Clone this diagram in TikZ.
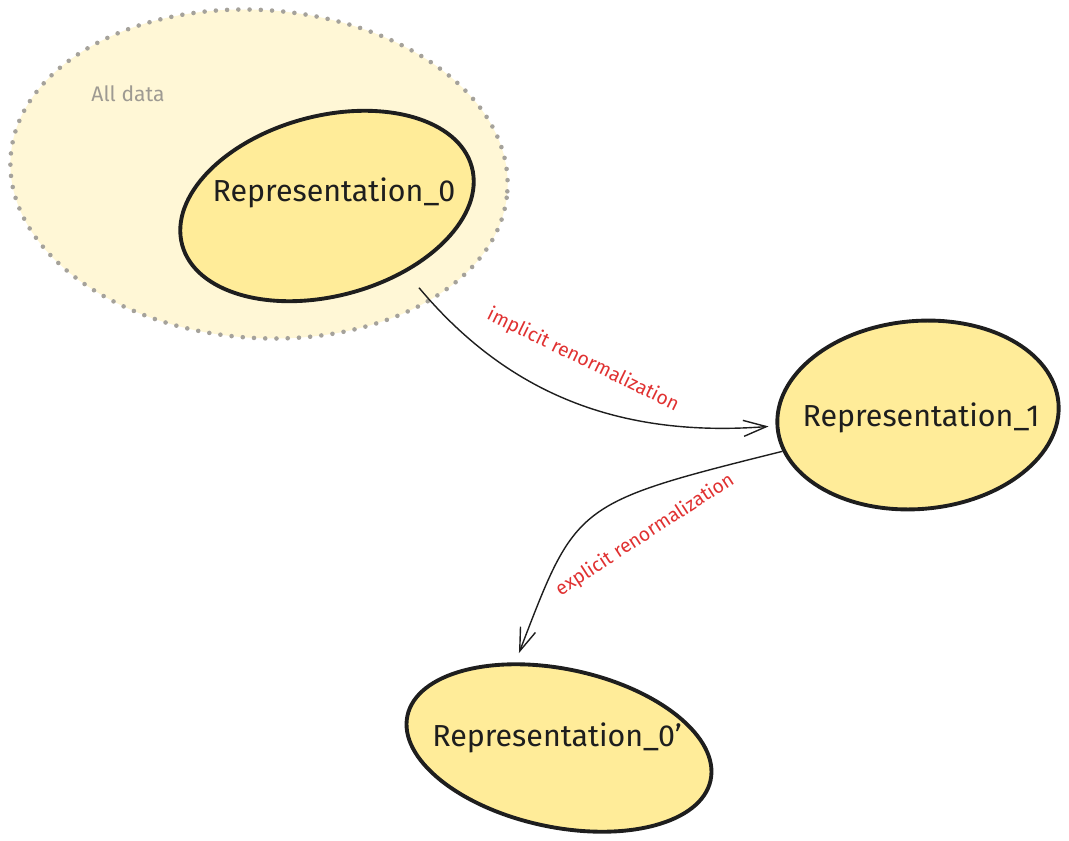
\documentclass[tikz,border=0pt]{standalone}
\usepackage{fontspec}
\setmainfont{Fira Sans}
\usetikzlibrary{arrows.meta,shapes.geometric}
\definecolor{RepFill}{RGB}{255,236,153}
\definecolor{DataFill}{RGB}{255,247,214}
\definecolor{DotGray}{RGB}{165,162,155}
\definecolor{LabelGray}{RGB}{158,154,146}
\definecolor{InkBlack}{RGB}{30,30,30}
\definecolor{NoteRed}{RGB}{224,49,49}
\tikzset{
  flow/.style={-{Straight Barb[length=4.6mm,width=3.2mm]},line width=0.8pt,draw=InkBlack},
  repnode/.style={ellipse,draw=InkBlack,fill=RepFill,line width=2.2pt,inner sep=0pt},
  reptext/.style={text=InkBlack,font=\fontsize{17.3}{20}\selectfont},
  datablob/.style={ellipse,draw=DotGray,fill=DataFill,line width=2.6pt,line cap=round,
    dash pattern=on 0pt off 2.25mm,inner sep=0pt},
  flowlabel/.style={text=NoteRed,font=\fontsize{11}{13}\selectfont,inner sep=1pt}
}

\begin{document}
\begin{tikzpicture}[x=0.02cm,y=0.02cm]
  \useasboundingbox (0,0) rectangle (1069,840);
  \node[datablob,minimum width=9.96cm,minimum height=6.56cm,rotate=-4] (alldata) at (259,666) {};
  \node[text=LabelGray,font=\fontsize{12}{14}\selectfont] (alldatatxt) at (128,746) {All data};
  \node[repnode,minimum width=6cm,minimum height=3.6cm,rotate=15] (rep0) at (327,634) {};
  \node[reptext] (rep0txt) at (334,647) {Representation\_0};
  \node[repnode,minimum width=5.64cm,minimum height=3.76cm,rotate=5] (rep1) at (918,425) {};
  \node[reptext] (rep1txt) at (921,422) {Representation\_1};
  \node[repnode,minimum width=6.2cm,minimum height=3.16cm,rotate=-12] (rep0p) at (559,92) {};
  \node[reptext] (rep0ptxt) at (557,102) {Representation\_0'};
  \draw[flow,shorten <=0.4cm,shorten >=0.14cm] (rep0.-55) to[out=-50,in=182] (rep1);
  \draw[flow,shorten >=0.2cm] (rep1.190) .. controls +(194:215) and +(69:170) .. (rep0p.129);
  \node[flowlabel,rotate=-26] (implicit) at (583,480) {implicit renormalization};
  \node[flowlabel,rotate=33] (explicit) at (645,305) {explicit renormalization};
\end{tikzpicture}
\end{document}
